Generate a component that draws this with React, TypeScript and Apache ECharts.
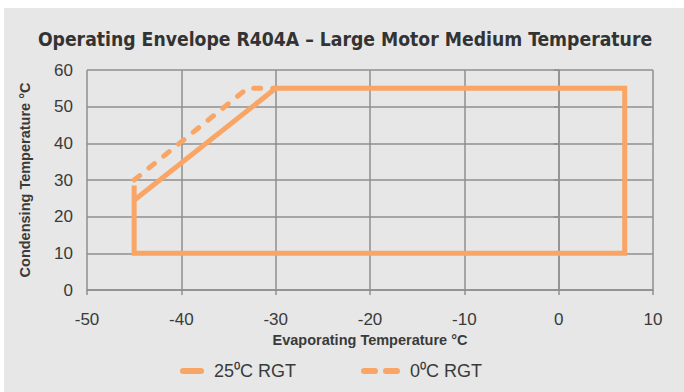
import React, { useEffect, useRef } from "react";
import * as echarts from "echarts";

const xTicks = [-50, -40, -30, -20, -10, 0, 10];
const yTicks = [0, 10, 20, 30, 40, 50, 60];
const seriesNames = ["25\u2070C RGT", "0\u2070C RGT"];
const solidX = [-45, -45, 7, 7, -30, -45];
const solidY = [28.5, 10, 10, 55, 55, 24.5];
const dashedX = [-45, -33, -30];
const dashedY = [30, 55, 55];

const ORANGE = "#f8a565";
const GRID = "#8f8f8f";
const TEXT = "#3a3a3a";
const SANS = "'Liberation Sans', Arial, sans-serif";

export default function App() {
  const ref = useRef<HTMLDivElement>(null);
  useEffect(() => {
    if (!ref.current) return;
    const chart = echarts.init(ref.current, undefined, { renderer: "svg" });
    const solid = solidX.map((x, i) => [x, solidY[i]]);
    const dashed = dashedX.map((x, i) => [x, dashedY[i]]);
    const legendBase = {
      top: 357,
      itemHeight: 10,
      itemStyle: { opacity: 0 },
    };
    chart.setOption({
      animation: false,
      backgroundColor: "transparent",
      title: {
        text: "Operating Envelope R404A \u2013 Large Motor Medium Temperature",
        left: 340,
        textAlign: "center",
        top: 25,
        textStyle: {
          fontFamily: "'DejaVu Sans Condensed', 'DejaVu Sans', sans-serif",
          fontWeight: "bold",
          fontSize: 19.2,
          color: "#333333",
        },
      },
      legend: [
        {
          ...legendBase,
          left: 175,
          itemWidth: 18,
          textStyle: { fontFamily: SANS, fontSize: 18, color: TEXT, padding: [0, 0, 0, 8] },
          data: [{ name: seriesNames[0], lineStyle: { width: 6, cap: "round", type: "solid" } }],
        },
        {
          ...legendBase,
          left: 356,
          itemWidth: 33,
          textStyle: { fontFamily: SANS, fontSize: 18, color: TEXT, padding: [0, 0, 0, 8] },
          data: [{ name: seriesNames[1], lineStyle: { width: 6, cap: "round", type: [11, 11] } }],
        },
      ],
      grid: { left: 87, right: 31, top: 70, bottom: 102, containLabel: false },
      xAxis: {
        type: "value",
        min: xTicks[0],
        max: xTicks[xTicks.length - 1],
        interval: 10,
        name: "Evaporating Temperature \u00b0C",
        nameLocation: "middle",
        nameGap: 42,
        nameTextStyle: { fontFamily: SANS, fontWeight: "bold", fontSize: 14.5, color: TEXT },
        axisLine: { show: true, lineStyle: { color: GRID, width: 1.5 } },
        axisTick: { show: true, length: 5, lineStyle: { color: GRID, width: 1.5 } },
        axisLabel: { margin: 21, fontFamily: SANS, fontSize: 17, color: TEXT },
        splitLine: { show: true, lineStyle: { color: GRID, width: 1.5 } },
      },
      yAxis: {
        type: "value",
        min: yTicks[0],
        max: yTicks[yTicks.length - 1],
        interval: 10,
        name: "Condensing Temperature \u00b0C",
        nameLocation: "middle",
        nameGap: 55,
        nameTextStyle: { fontFamily: SANS, fontWeight: "bold", fontSize: 14.5, color: TEXT },
        axisLine: { show: true, lineStyle: { color: GRID, width: 1.5 } },
        axisTick: { show: true, length: 5, lineStyle: { color: GRID, width: 1.5 } },
        axisLabel: { margin: 14, fontFamily: SANS, fontSize: 17, color: TEXT },
        splitLine: { show: true, lineStyle: { color: GRID, width: 1.5 } },
      },
      series: [
        {
          name: seriesNames[0],
          type: "line",
          data: solid,
          showSymbol: false,
          symbol: "none",
          color: ORANGE,
          lineStyle: { color: ORANGE, width: 5, join: "miter", cap: "butt" },
          z: 3,
        },
        {
          name: seriesNames[1],
          type: "line",
          data: dashed,
          showSymbol: false,
          symbol: "none",
          color: ORANGE,
          lineStyle: { color: ORANGE, width: 5, type: [7, 12], cap: "round", join: "round" },
          z: 3,
        },
      ],
    });
    return () => chart.dispose();
  }, []);
  return (
    <div style={{ position: "fixed", left: 0, top: 0, width: 684, height: 392, background: "#ffffff" }}>
      <div style={{ position: "absolute", left: 4, top: 8, width: 680, height: 384, background: "#e6e7e6" }} />
      <div ref={ref} style={{ position: "absolute", left: 0, top: 0, width: 684, height: 392 }} />
    </div>
  );
}
